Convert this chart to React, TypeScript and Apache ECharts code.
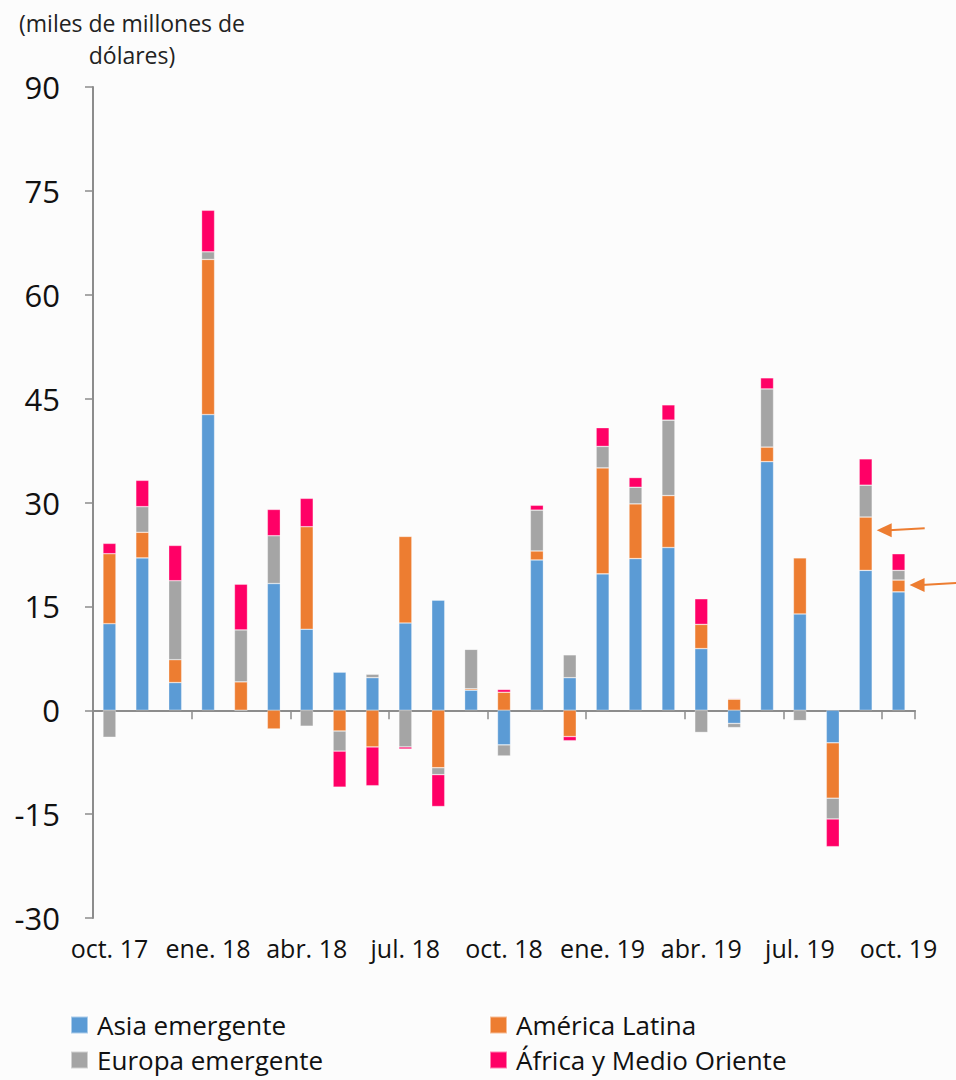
import React, { useEffect, useRef } from "react";
import * as echarts from "echarts";

const categories = [
  "oct. 17", "nov. 17", "dic. 17", "ene. 18", "feb. 18", "mar. 18", "abr. 18", "may. 18", "jun. 18",
  "jul. 18", "ago. 18", "sep. 18", "oct. 18", "nov. 18", "dic. 18", "ene. 19", "feb. 19", "mar. 19",
  "abr. 19", "may. 19", "jun. 19", "jul. 19", "ago. 19", "sep. 19", "oct. 19",
];

const asiaEmergente = [12.5, 22.0, 4.0, 42.7, 0, 18.3, 11.7, 5.5, 4.7, 12.6, 15.9, 2.9, -5.0, 21.7, 4.7, 19.7, 21.9, 23.5, 8.9, -1.9, 35.9, 13.9, -4.7, 20.2, 17.1];
const americaLatina = [10.1, 3.7, 3.3, 22.4, 4.1, -2.7, 14.8, -3.0, -5.3, 12.5, -8.3, 0.2, 2.6, 1.3, -3.8, 15.3, 7.9, 7.5, 3.5, 1.6, 2.1, 8.1, -8.0, 7.7, 1.7];
const europaEmergente = [-3.9, 3.7, 11.4, 1.1, 7.5, 6.9, -2.3, -2.9, 0.5, -5.3, -1.0, 5.7, -1.6, 5.9, 3.3, 3.1, 2.4, 10.9, -3.2, -0.6, 8.4, -1.5, -3.0, 4.6, 1.4];
const africaMedioOriente = [1.5, 3.8, 5.1, 6.0, 6.6, 3.8, 4.1, -5.2, -5.6, -0.3, -4.6, 0, 0.4, 0.7, -0.6, 2.7, 1.4, 2.2, 3.7, 0.1, 1.6, 0, -4.0, 3.8, 2.4];

const yTicks = { min: -30, max: 90, interval: 15 };
const unitTitle = "(miles de millones de\ndólares)";

// legend layout: name, column, row
const legendItems = [
  { name: "Asia emergente", col: 0, row: 0 },
  { name: "América Latina", col: 1, row: 0 },
  { name: "Europa emergente", col: 0, row: 1 },
  { name: "África y Medio Oriente", col: 1, row: 1 },
];

// arrow annotations: category index and value they point at
const arrowTargets = [
  { index: 23, value: 26.0 },
  { index: 24, value: 18.1 },
];

const FONT = "'Open Sans', 'Noto Sans', sans-serif";
const AXIS_COLOR = "#8c8c8c";

export default function App() {
  const ref = useRef<HTMLDivElement>(null);

  useEffect(() => {
    document.body.style.margin = "0";
    document.body.style.background = "#fcfcfc";
    if (!ref.current) return;
    const chart = echarts.init(ref.current, undefined, { renderer: "svg" });

    const mkSeries = (name: string, data: number[], color: string) => ({
      name,
      type: "bar",
      stack: "total",
      data,
      barWidth: 13,
      xAxisIndex: 0,
      yAxisIndex: 0,
      itemStyle: { color, borderColor: "rgba(255,255,255,0.5)", borderWidth: 0.6 },
    });

    chart.setOption({
      animation: false,
      backgroundColor: "#fcfcfc",
      textStyle: { fontFamily: FONT },
      grid: { left: 93, right: 41, top: 87, bottom: 162, containLabel: false },
      xAxis: [
        {
          type: "category",
          data: categories,
          position: "bottom",
          axisLine: { onZero: true, lineStyle: { color: AXIS_COLOR, width: 2 } },
          axisTick: {
            show: true,
            length: 9,
            interval: (index: number) => index % 3 === 0,
            lineStyle: { color: AXIS_COLOR, width: 1.5 },
          },
          axisLabel: { show: false },
          splitLine: { show: false },
        },
        {
          type: "category",
          data: categories,
          position: "bottom",
          axisLine: { show: false, onZero: false },
          axisTick: { show: false },
          axisLabel: {
            interval: (index: number) => index % 3 === 0,
            margin: 17,
            fontSize: 25,
            color: "#111",
            fontFamily: FONT,
          },
        },
      ],
      yAxis: {
        type: "value",
        min: yTicks.min,
        max: yTicks.max,
        interval: yTicks.interval,
        axisLine: { show: true, lineStyle: { color: AXIS_COLOR, width: 2 } },
        axisTick: { show: true, length: 8, lineStyle: { color: AXIS_COLOR, width: 1.5 } },
        axisLabel: { fontSize: 31, color: "#111", margin: 33, fontFamily: FONT },
        splitLine: { show: false },
      },
      legend: legendItems.map((it) => ({
        orient: "horizontal",
        left: it.col === 0 ? 65 : 484,
        top: it.row === 0 ? 1007 : 1042,
        padding: [5, 5, 3, 5],
        itemWidth: 17,
        itemHeight: 17,
        icon: "rect",
        data: [it.name],
        textStyle: { fontSize: 26, color: "#111", fontFamily: FONT, padding: [0, 0, 0, 4] },
      })),
      series: [
        mkSeries("Asia emergente", asiaEmergente, "#5B9BD5"),
        mkSeries("América Latina", americaLatina, "#ED7D31"),
        mkSeries("Europa emergente", europaEmergente, "#A5A5A5"),
        mkSeries("África y Medio Oriente", africaMedioOriente, "#FF0066"),
      ],
    });

    const graphics: any[] = [
      {
        type: "text",
        x: 132,
        y: 7,
        style: {
          text: unitTitle,
          textAlign: "center",
          fontSize: 23,
          lineHeight: 32,
          fill: "#222",
          fontFamily: FONT,
        },
      },
    ];
    arrowTargets.forEach((a) => {
      const p = chart.convertToPixel({ xAxisIndex: 0, yAxisIndex: 0 }, [a.index, a.value]) as number[];
      const tipX = p[0] + 11;
      const tipY = p[1];
      graphics.push({
        type: "line",
        shape: { x1: tipX + 12, y1: tipY, x2: tipX + 48, y2: tipY - 2 },
        style: { stroke: "#ED7D31", lineWidth: 2 },
      });
      graphics.push({
        type: "polygon",
        shape: { points: [[tipX, tipY], [tipX + 15, tipY - 7], [tipX + 15, tipY + 7]] },
        style: { fill: "#ED7D31" },
      });
    });
    chart.setOption({ graphic: graphics });

    return () => chart.dispose();
  }, []);

  return (
    <div
      ref={ref}
      style={{ position: "absolute", left: 0, top: 0, width: 956, height: 1080 }}
    />
  );
}
